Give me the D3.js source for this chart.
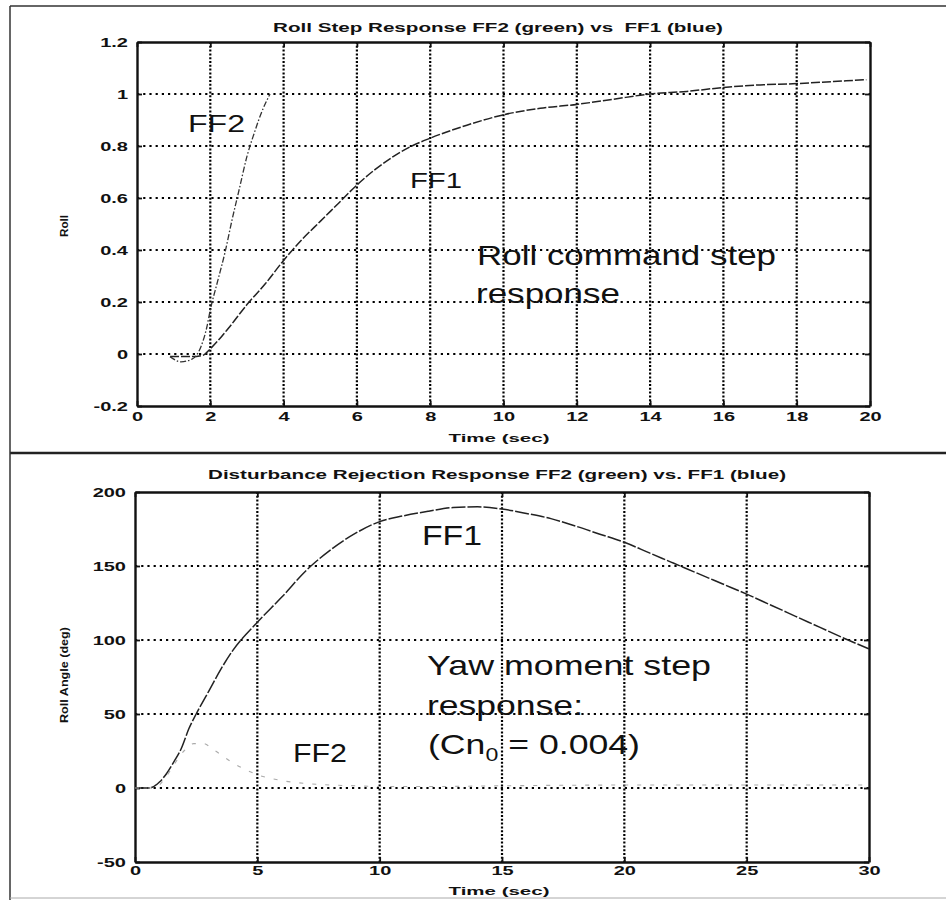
<!DOCTYPE html>
<html>
<head>
<meta charset="utf-8">
<script src="https://cdn.jsdelivr.net/npm/d3@7"></script>
<style>
  body { margin: 0; background: #fff; }
  text { font-family: "Liberation Sans", Arial, sans-serif; fill: #111; }
</style>
</head>
<body>
<svg id="fig" width="946" height="907"></svg>
<script>
// ---- data ----
// roll step response
const rollTimeFF1 = [0.9, 1.2, 1.5, 1.8, 2.0, 2.5, 3.0, 3.5, 4.0, 4.5, 5.0, 5.5, 6.0, 6.5, 7.0, 7.5, 8.0, 9.0, 10, 11, 12, 13, 14, 15, 16, 17, 18, 19, 19.9];
const rollFF1 = [-0.01, -0.01, -0.01, -0.005, 0.02, 0.1, 0.19, 0.27, 0.36, 0.44, 0.51, 0.58, 0.65, 0.71, 0.76, 0.8, 0.83, 0.88, 0.92, 0.945, 0.96, 0.98, 1.0, 1.01, 1.025, 1.035, 1.04, 1.048, 1.055];
const rollTimeFF2 = [0.9, 1.2, 1.5, 1.75, 1.9, 2.0, 2.2, 2.4, 2.6, 2.8, 3.0, 3.2, 3.4, 3.63];
const rollFF2 = [-0.01, -0.03, -0.02, 0.03, 0.1, 0.17, 0.28, 0.39, 0.52, 0.64, 0.76, 0.85, 0.93, 1.0];
const rollXTicks = [0, 2, 4, 6, 8, 10, 12, 14, 16, 18, 20];
const rollYTicks = [-0.2, 0, 0.2, 0.4, 0.6, 0.8, 1, 1.2];
const rollYLabels = ["-0.2", "0", "0.2", "0.4", "0.6", "0.8", "1", "1.2"];

// disturbance rejection response
const distTimeFF1 = [0, 0.5, 0.7, 1.0, 1.3, 1.6, 1.9, 2.2, 2.5, 3.0, 3.5, 4, 5, 6, 7, 8, 9, 10, 11, 12, 13, 14, 15, 16, 17, 18, 19, 20, 21, 22, 23, 24, 25, 26, 27, 28, 29, 30];
const distFF1 = [0, 0, 0.5, 4, 10, 18, 27, 40, 50, 65, 80, 93, 112, 129, 147, 161, 172, 180, 184, 187, 189.5, 190, 188.5, 185.5, 182, 177, 171.5, 166, 159, 152, 145, 138, 131, 123.5, 116, 108.5, 101, 94];
const distTimeFF2 = [0, 0.8, 1.2, 1.6, 2.0, 2.4, 2.8, 3.2, 4, 5, 6, 7, 8, 9, 10, 12, 15, 20, 25, 30];
const distFF2 = [0, 0, 6, 16, 25, 30, 30, 26, 17, 9, 5, 3, 2, 1.5, 1, 1, 1.5, 2, 2, 2];
const distXTicks = [0, 5, 10, 15, 20, 25, 30];
const distYTicks = [-50, 0, 50, 100, 150, 200];
const distYLabels = ["-50", "0", "50", "100", "150", "200"];

const svg = d3.select("#fig");

// stretch text horizontally like the scanned figure
function stretch(sel, k) {
  sel.each(function () {
    const w = this.getComputedTextLength();
    d3.select(this).attr("textLength", w * k).attr("lengthAdjust", "spacingAndGlyphs");
  });
}

// outer frame of the scanned page
svg.append("line").attr("x1", 10).attr("x2", 946).attr("y1", 6).attr("y2", 6)
  .attr("stroke", "#333").attr("stroke-width", 1.5);
svg.append("line").attr("x1", 10).attr("x2", 946).attr("y1", 453).attr("y2", 453)
  .attr("stroke", "#222").attr("stroke-width", 2.5);
svg.append("line").attr("x1", 10).attr("x2", 10).attr("y1", 6).attr("y2", 900)
  .attr("stroke", "#333").attr("stroke-width", 1.5);
svg.append("line").attr("x1", 10).attr("x2", 946).attr("y1", 898).attr("y2", 898)
  .attr("stroke", "#aaa").attr("stroke-width", 1);

function drawPanel(p) {
  const x = d3.scaleLinear().domain(p.xDomain).range([p.left, p.right]);
  const y = d3.scaleLinear().domain(p.yDomain).range([p.bottom, p.top]);
  const g = svg.append("g");

  // dotted grid
  g.append("g").selectAll("line")
    .data(p.yTicks.slice(1, -1))
    .join("line")
    .attr("x1", p.left).attr("x2", p.right)
    .attr("y1", (d) => y(d)).attr("y2", (d) => y(d))
    .attr("stroke", "#000").attr("stroke-width", 2.2)
    .attr("stroke-dasharray", "2.2,4");
  g.append("g").selectAll("line")
    .data(p.xTicks.slice(1, -1))
    .join("line")
    .attr("x1", (d) => x(d)).attr("x2", (d) => x(d))
    .attr("y1", p.top).attr("y2", p.bottom)
    .attr("stroke", "#000").attr("stroke-width", 2.2)
    .attr("stroke-dasharray", "2,1.8");

  // axes with inward ticks
  const xb = g.append("g").attr("transform", `translate(0,${p.bottom})`)
    .call(d3.axisBottom(x).tickValues(p.xTicks).tickFormat(d3.format("d"))
      .tickSizeInner(-5).tickSizeOuter(0).tickPadding(p.xPad));
  const yl = g.append("g").attr("transform", `translate(${p.left},0)`)
    .call(d3.axisLeft(y).tickValues(p.yTicks).tickFormat((d, i) => p.yLabels[i])
      .tickSizeInner(-5).tickSizeOuter(0).tickPadding(9));
  g.append("g").attr("transform", `translate(0,${p.top})`)
    .call(d3.axisTop(x).tickValues(p.xTicks).tickFormat("").tickSizeInner(-5).tickSizeOuter(0));
  g.append("g").attr("transform", `translate(${p.right},0)`)
    .call(d3.axisRight(y).tickValues(p.yTicks).tickFormat("").tickSizeInner(-5).tickSizeOuter(0));

  g.selectAll(".domain").attr("stroke", "#111").attr("stroke-width", 2.4);
  g.selectAll(".tick line").attr("stroke", "#111").attr("stroke-width", 1.8);
  [xb, yl].forEach((a) => {
    a.selectAll("text")
      .style("font-family", '"Liberation Sans", Arial, sans-serif')
      .style("font-size", "12.5px").style("font-weight", "bold").attr("fill", "#111");
    stretch(a.selectAll("text"), 1.6);
  });

  // response curves
  const line = d3.line().x((d) => x(d[0])).y((d) => y(d[1])).curve(d3.curveMonotoneX);
  p.series.forEach((s) => {
    g.append("path")
      .datum(d3.zip(s.t, s.v))
      .attr("d", line)
      .attr("fill", "none")
      .attr("stroke", s.color)
      .attr("stroke-width", s.width)
      .attr("stroke-dasharray", s.dash);
  });

  // title and axis labels
  g.append("text")
    .attr("x", p.titleX).attr("y", p.titleY)
    .attr("text-anchor", "middle")
    .attr("xml:space", "preserve")
    .style("white-space", "pre")
    .style("font-size", "12px").style("font-weight", "bold")
    .attr("textLength", p.titleW).attr("lengthAdjust", "spacingAndGlyphs")
    .text(p.title);
  g.append("text")
    .attr("x", 499).attr("y", p.xLabelY)
    .attr("text-anchor", "middle")
    .style("font-size", "11px").style("font-weight", "bold")
    .attr("textLength", 101).attr("lengthAdjust", "spacingAndGlyphs")
    .text("Time (sec)");
  g.append("text")
    .attr("transform", `translate(68,${p.yLabelC}) rotate(-90)`)
    .attr("text-anchor", "middle")
    .style("font-size", "10px").style("font-weight", "bold")
    .attr("textLength", p.yLabelW).attr("lengthAdjust", "spacingAndGlyphs")
    .text(p.yLabel);

  // annotations
  p.notes.forEach((n) => {
    const t = g.append("text")
      .attr("x", n.x).attr("y", n.y)
      .attr("xml:space", "preserve")
      .style("white-space", "pre")
      .style("font-size", n.size + "px")
      .attr("fill", "#222")
      .attr("textLength", n.w).attr("lengthAdjust", "spacingAndGlyphs");
    if (n.sub) {
      t.append("tspan").text(n.text[0]);
      t.append("tspan").text(n.text[1]).attr("dy", 7).style("font-size", (n.size * 0.65) + "px");
      t.append("tspan").text(n.text[2]).attr("dy", -7);
    } else {
      t.text(n.text);
    }
  });
}

drawPanel({
  xDomain: [0, 20], yDomain: [-0.2, 1.2],
  left: 137, right: 870, top: 42, bottom: 406,
  xTicks: rollXTicks, yTicks: rollYTicks, yLabels: rollYLabels, xPad: 6,
  series: [
    { t: rollTimeFF1, v: rollFF1, color: "#222", width: 1.5, dash: "9,2" },
    { t: rollTimeFF2, v: rollFF2, color: "#333", width: 1.3, dash: "6,2,1.5,2" }
  ],
  title: "Roll Step Response FF2 (green) vs  FF1 (blue)", titleX: 498, titleY: 32, titleW: 450,
  xLabelY: 442, yLabel: "Roll", yLabelC: 226, yLabelW: 22,
  notes: [
    { x: 188, y: 132, size: 23, w: 57, text: "FF2" },
    { x: 410, y: 188, size: 22, w: 52, text: "FF1" },
    { x: 477, y: 265, size: 28, w: 299, text: "Roll command step" },
    { x: 476, y: 303, size: 28, w: 144, text: "response" }
  ]
});

drawPanel({
  xDomain: [0, 30], yDomain: [-50, 200],
  left: 135, right: 869, top: 492, bottom: 862,
  xTicks: distXTicks, yTicks: distYTicks, yLabels: distYLabels, xPad: 4,
  series: [
    { t: distTimeFF1, v: distFF1, color: "#222", width: 1.5, dash: "14,2" },
    { t: distTimeFF2, v: distFF2, color: "#aaa", width: 1.1, dash: "4,9" }
  ],
  title: "Disturbance Rejection Response FF2 (green) vs. FF1 (blue)", titleX: 497, titleY: 479, titleW: 578,
  xLabelY: 895, yLabel: "Roll Angle (deg)", yLabelC: 675, yLabelW: 96,
  notes: [
    { x: 422, y: 545, size: 28, w: 60, text: "FF1" },
    { x: 427, y: 675, size: 28, w: 284, text: "Yaw moment step" },
    { x: 427, y: 715, size: 28, w: 156, text: "response:" },
    { x: 428, y: 754, size: 28, w: 212, sub: true, text: ["(Cn", "0", " = 0.004)"] },
    { x: 293, y: 762, size: 26, w: 54, text: "FF2" }
  ]
});
</script>
</body>
</html>
